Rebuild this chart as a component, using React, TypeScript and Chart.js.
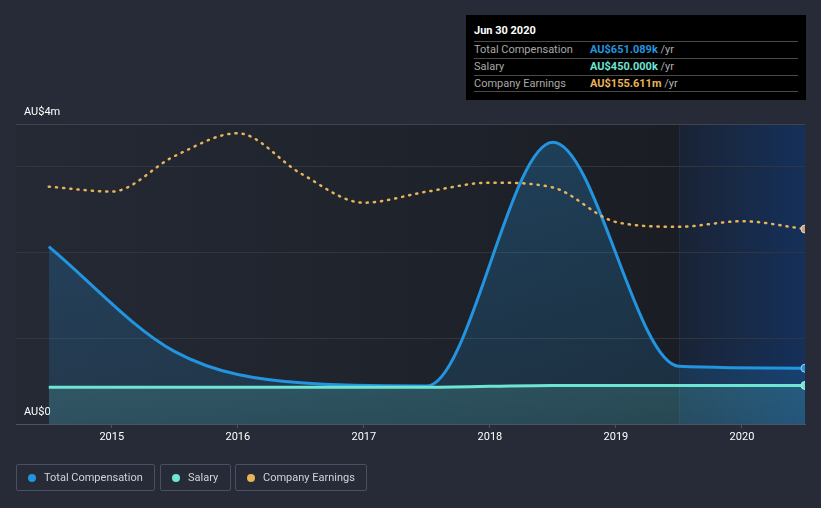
import React, { useEffect, useRef } from "react";
import { Chart, registerables } from "chart.js";

Chart.register(...registerables);

// ---- data ----
const compYears = [2014.5, 2015.5, 2016.5, 2017.5, 2018.5, 2019.5, 2020.5];
const totalCompensation = [2069000, 844000, 480000, 443000, 3287000, 673000, 651089];
const salary = [428000, 428000, 428000, 428000, 450000, 450000, 450000];

const earningsYears = [
  2014.5, 2015.0, 2015.5, 2016.0, 2016.5, 2017.0, 2017.5, 2018.0, 2018.5, 2019.0, 2019.5, 2020.0, 2020.5,
];
// Company earnings, AU$ millions
const companyEarnings = [189.4, 185.5, 213.9, 232.0, 199.9, 176.6, 185.4, 192.6, 188.7, 161.2, 157.4, 161.8, 155.611];

const xTickYears = [2015, 2016, 2017, 2018, 2019, 2020];
const yTickValues = [0, 1000000, 2000000, 3000000, 3500000];
const yTickLabels: Record<number, string> = { 0: "AU$0", 3500000: "AU$4m" };
const highlightStart = 2019.5;

const BLUE = "#2394df";
const TEAL = "#6ee5d3";
const ORANGE = "#e8b45a";
const FONT = "Roboto";

const bgPlugin = {
  id: "bgPlugin",
  beforeDraw(chart: any) {
    const { ctx, chartArea, scales } = chart;
    if (!chartArea) return;
    const { left, right, top, bottom } = chartArea;
    const hx = scales.x.getPixelForValue(highlightStart);
    ctx.save();
    const g = ctx.createLinearGradient(left, 0, hx, 0);
    g.addColorStop(0, "#242934");
    g.addColorStop(0.5, "#20242d");
    g.addColorStop(1, "#1a1d23");
    ctx.fillStyle = g;
    ctx.fillRect(left, top, hx - left, bottom - top);
    const g2 = ctx.createLinearGradient(hx, 0, right, 0);
    g2.addColorStop(0, "#1a2335");
    g2.addColorStop(1, "#15305a");
    ctx.fillStyle = g2;
    ctx.fillRect(hx, top, right - hx, bottom - top);
    ctx.strokeStyle = "rgba(60,90,130,0.18)";
    ctx.lineWidth = 1;
    ctx.beginPath();
    ctx.moveTo(Math.round(hx) + 0.5, top);
    ctx.lineTo(Math.round(hx) + 0.5, bottom);
    ctx.stroke();
    ctx.restore();
  },
};

function vGradient(colorTop: string, colorBottom: string) {
  return (c: any) => {
    const chart = c.chart;
    const ca = chart.chartArea;
    if (!ca) return colorTop;
    const g = chart.ctx.createLinearGradient(0, ca.top, 0, ca.bottom);
    g.addColorStop(0, colorTop);
    g.addColorStop(1, colorBottom);
    return g;
  };
}

function ChartCanvas() {
  const ref = useRef<HTMLCanvasElement | null>(null);
  useEffect(() => {
    if (!ref.current) return;
    const lastComp = compYears.length - 1;
    const lastEarn = earningsYears.length - 1;
    const chart = new Chart(ref.current, {
      type: "line",
      data: {
        datasets: [
          {
            label: "Company Earnings",
            data: earningsYears.map((x, i) => ({ x, y: companyEarnings[i] })),
            yAxisID: "y2",
            borderColor: ORANGE,
            borderWidth: 2.5,
            borderDash: [1.2, 6],
            borderCapStyle: "round",
            fill: false,
            cubicInterpolationMode: "monotone",
            pointRadius: (c: any) => (c.dataIndex === lastEarn ? 4 : 0),
            pointBackgroundColor: "#c8a47c",
            pointBorderColor: "#e6d6c4",
            pointBorderWidth: 1,
            order: 0,
          },
          {
            label: "Salary",
            data: compYears.map((x, i) => ({ x, y: salary[i] })),
            yAxisID: "y",
            borderColor: TEAL,
            borderWidth: 3,
            fill: "origin",
            backgroundColor: vGradient("rgba(110,229,211,0.36)", "rgba(110,229,211,0.14)"),
            cubicInterpolationMode: "monotone",
            pointRadius: (c: any) => (c.dataIndex === lastComp ? 4 : 0),
            pointBackgroundColor: TEAL,
            pointBorderColor: "#b5f2ea",
            pointBorderWidth: 1,
            order: 1,
          },
          {
            label: "Total Compensation",
            data: compYears.map((x, i) => ({ x, y: totalCompensation[i] })),
            yAxisID: "y",
            borderColor: BLUE,
            borderWidth: 3,
            fill: "origin",
            backgroundColor: vGradient("rgba(35,148,223,0.28)", "rgba(35,148,223,0.14)"),
            cubicInterpolationMode: "monotone",
            pointRadius: (c: any) => (c.dataIndex === lastComp ? 4 : 0),
            pointBackgroundColor: BLUE,
            pointBorderColor: "#9fd0f3",
            pointBorderWidth: 1,
            order: 2,
          },
        ],
      },
      options: {
        animation: false,
        responsive: false,
        devicePixelRatio: 1,
        layout: { padding: { left: 16, right: 16, top: 124, bottom: 54 } },
        plugins: {
          legend: { display: false },
          tooltip: { enabled: false },
        },
        events: [],
        scales: {
          x: {
            type: "linear",
            min: 2014.24,
            max: 2020.5,
            afterBuildTicks: (s: any) => {
              s.ticks = xTickYears.map((v) => ({ value: v }));
            },
            afterFit: (s: any) => {
              s.height = 30;
            },
            grid: {
              drawOnChartArea: false,
              drawTicks: true,
              tickLength: 4,
              color: "#4b5261",
            },
            border: { display: true, color: "#4b5261", width: 1 },
            ticks: {
              color: "#ffffff",
              padding: 3,
              autoSkip: false,
              maxRotation: 0,
              font: { family: FONT, size: 11 },
              callback: (v: any) => String(v),
            },
          },
          y: {
            type: "linear",
            min: 0,
            max: 3500000,
            afterBuildTicks: (s: any) => {
              s.ticks = yTickValues.map((v) => ({ value: v }));
            },
            afterFit: (s: any) => {
              s.width = 0;
            },
            grid: {
              drawTicks: false,
              color: (c: any) =>
                c.tick && c.tick.value === 3500000
                  ? "#3d4350"
                  : c.tick && c.tick.value === 0
                  ? "rgba(0,0,0,0)"
                  : "#30363f",
            },
            border: { display: false },
            ticks: {
              mirror: true,
              padding: 8,
              labelOffset: -12,
              autoSkip: false,
              color: "#ffffff",
              font: { family: FONT, size: 11 },
              callback: (v: any) => yTickLabels[v as number] ?? "",
            },
          },
          y2: {
            type: "linear",
            display: false,
            min: 0,
            max: 239.4,
          },
        },
      } as any,
      plugins: [bgPlugin],
    });
    return () => chart.destroy();
  }, []);
  return <canvas ref={ref} width={821} height={508} style={{ display: "block" }} />;
}

const tooltipRows = [
  { label: "Total Compensation", value: "AU$651.089k", color: BLUE },
  { label: "Salary", value: "AU$450.000k", color: TEAL },
  { label: "Company Earnings", value: "AU$155.611m", color: ORANGE },
];

const legendItems = [
  { label: "Total Compensation", color: BLUE, left: 16, width: 139 },
  { label: "Salary", color: TEAL, left: 160, width: 71 },
  { label: "Company Earnings", color: ORANGE, left: 235, width: 132 },
];

export default function App() {
  return (
    <div
      style={{
        position: "fixed",
        left: 0,
        top: 0,
        width: 821,
        height: 508,
        background: "#262b37",
        fontFamily: FONT,
        overflow: "hidden",
      }}
    >
      <ChartCanvas />
      <div
        style={{
          position: "absolute",
          left: 466,
          top: 15,
          width: 340,
          height: 85,
          background: "#000000",
          fontSize: 11,
        }}
      >
        <div
          style={{
            position: "absolute",
            left: 8,
            top: 9,
            color: "#ffffff",
            fontWeight: "bold",
            fontSize: 11,
            lineHeight: "14px",
          }}
        >
          Jun 30 2020
        </div>
        {tooltipRows.map((r, i) => (
          <div
            key={r.label}
            style={{
              position: "absolute",
              left: 8,
              top: 26 + i * 16.8,
              width: 324,
              height: 16.8,
              borderTop: "1px solid #4a4a4a",
              lineHeight: "16px",
            }}
          >
            <span style={{ position: "absolute", left: 0, color: "#a8a8a8" }}>{r.label}</span>
            <span style={{ position: "absolute", left: 116, whiteSpace: "nowrap" }}>
              <span style={{ color: r.color, fontWeight: "bold" }}>{r.value}</span>
              <span style={{ color: "#b0b0b0" }}> /yr</span>
            </span>
          </div>
        ))}
        <div
          style={{
            position: "absolute",
            left: 8,
            top: 76.4,
            width: 324,
            borderTop: "1px solid #4a4a4a",
          }}
        />
      </div>
      {legendItems.map((it) => (
        <div
          key={it.label}
          style={{
            position: "absolute",
            left: it.left,
            top: 464,
            width: it.width,
            height: 27,
            boxSizing: "border-box",
            border: "1px solid #4a5061",
            borderRadius: 2,
            fontSize: 11,
            color: "#d0d3d8",
          }}
        >
          <span
            style={{
              position: "absolute",
              left: 11,
              top: 9,
              width: 8,
              height: 8,
              borderRadius: 4,
              background: it.color,
            }}
          />
          <span style={{ position: "absolute", left: 27, top: 5, lineHeight: "16px", whiteSpace: "nowrap" }}>
            {it.label}
          </span>
        </div>
      ))}
    </div>
  );
}
